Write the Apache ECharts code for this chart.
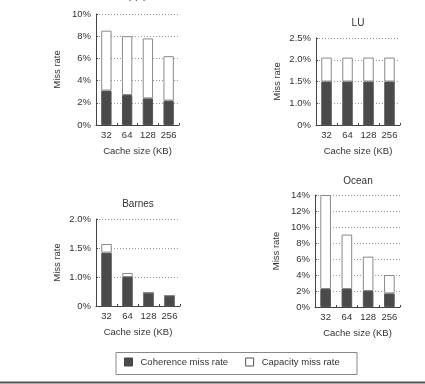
<!DOCTYPE html>
<html>
<head>
<meta charset="utf-8">
<script src="https://cdn.jsdelivr.net/npm/echarts@6/dist/echarts.min.js"></script>
<style>html,body{margin:0;padding:0;background:#fff}#c{width:425px;height:384px}</style>
</head>
<body>
<div id="c"></div>
<script>
const categories = ['32', '64', '128', '256'];
const seriesNames = ['Coherence miss rate', 'Capacity miss rate'];
const panelTitles = ['FFT', 'LU', 'Barnes', 'Ocean'];

const fftCoherence = [3.1, 2.7, 2.4, 2.2];
const fftCapacity = [5.4, 5.3, 5.4, 4.0];
const luCoherence = [1.5, 1.5, 1.5, 1.5];
const luCapacity = [0.55, 0.55, 0.55, 0.55];
const barnesCoherence = [1.42, 1.0, 0.73, 0.68];
const barnesCapacity = [0.15, 0.07, 0, 0];
const oceanCoherence = [2.25, 2.25, 2.0, 1.7];
const oceanCapacity = [11.75, 6.8, 4.3, 2.3];

const fftTickLabels = ['0%', '2%', '4%', '6%', '8%', '10%'];
const luTickLabels = ['0%', '1.0%', '1.5%', '2.0%', '2.5%'];
const barnesTickLabels = ['0%', '1.0%', '1.5%', '2.0%'];
const oceanTickLabels = ['0%', '2%', '4%', '6%', '8%', '10%', '12%', '14%'];

const FONT = 'Liberation Sans, Arial, sans-serif';
const TXT = '#333';

const panels = [
  { coh: fftCoherence, cap: fftCapacity, labels: fftTickLabels, min: 0, max: 10, interval: 2,
    grid: { left: 96, top: 14, width: 83, height: 111 }, title: [138, -2] },
  { coh: luCoherence, cap: luCapacity, labels: luTickLabels, min: 0.5, max: 2.5, interval: 0.5,
    grid: { left: 316, top: 38, width: 84, height: 87 }, title: [358, 23] },
  { coh: barnesCoherence, cap: barnesCapacity, labels: barnesTickLabels, min: 0.5, max: 2.0, interval: 0.5,
    grid: { left: 96, top: 219, width: 84, height: 87 }, title: [138, 204] },
  { coh: oceanCoherence, cap: oceanCapacity, labels: oceanTickLabels, min: 0, max: 14, interval: 2,
    grid: { left: 315, top: 195, width: 85, height: 112 }, title: [358, 181] }
];

const grids = [], xAxes = [], yAxes = [], series = [], graphics = [];
panels.forEach((p, i) => {
  grids.push(Object.assign({ containLabel: false }, p.grid));
  xAxes.push({
    type: 'category', gridIndex: i, data: categories,
    name: 'Cache size (KB)', nameLocation: 'middle', nameGap: 21,
    nameTextStyle: { fontFamily: FONT, fontSize: 9.5, color: TXT },
    axisLine: { show: true, lineStyle: { color: '#444', width: 1 } },
    axisTick: { show: true, inside: true, length: 2, lineStyle: { color: '#444' } },
    axisLabel: { fontFamily: FONT, fontSize: 9.5, color: TXT, margin: 5 },
    splitLine: { show: false }
  });
  yAxes.push({
    type: 'value', gridIndex: i, min: p.min, max: p.max, interval: p.interval,
    name: 'Miss rate', nameLocation: 'middle', nameGap: 34, nameRotate: 90,
    nameTextStyle: { fontFamily: FONT, fontSize: 9.5, color: TXT },
    axisLine: { show: true, lineStyle: { color: '#444', width: 1 } },
    axisTick: { show: true, inside: true, length: 2, lineStyle: { color: '#444' } },
    axisLabel: { fontFamily: FONT, fontSize: 9.5, color: TXT, margin: 5,
      formatter: (v, idx) => p.labels[idx] },
    splitLine: { show: true, lineStyle: { color: '#999', type: [1, 2], width: 1 } }
  });
  series.push({
    name: seriesNames[0], type: 'bar', xAxisIndex: i, yAxisIndex: i, stack: 's' + i,
    data: p.coh, barWidth: '50%', clip: true,
    itemStyle: { color: '#4a4a4a', borderColor: '#555', borderWidth: 1 }
  });
  series.push({
    name: seriesNames[1], type: 'bar', xAxisIndex: i, yAxisIndex: i, stack: 's' + i,
    data: p.cap, barWidth: '50%', clip: true,
    itemStyle: { color: '#ffffff', borderColor: '#888', borderWidth: 1 }
  });
  graphics.push({
    type: 'text', x: p.title[0], y: p.title[1],
    style: { text: panelTitles[i], textAlign: 'center', verticalAlign: 'middle',
      fontFamily: FONT, fontSize: 10, fill: TXT }
  });
});

graphics.push({
  type: 'rect', shape: { x: 116, y: 352.5, width: 241, height: 22 },
  style: { fill: 'none', stroke: '#888', lineWidth: 1 }, z: 1
});
graphics.push({
  type: 'line', shape: { x1: 0, y1: 382.5, x2: 425, y2: 382.5 },
  style: { stroke: '#555', lineWidth: 2 }
});

const chart = echarts.init(document.getElementById('c'), null, { renderer: 'canvas' });
chart.setOption({
  animation: false,
  backgroundColor: '#fff',
  grid: grids,
  xAxis: xAxes,
  yAxis: yAxes,
  series: series,
  legend: {
    left: 124, top: 357, itemWidth: 8, itemHeight: 8, itemGap: 17, padding: 0,
    icon: 'rect',
    textStyle: { fontFamily: FONT, fontSize: 9.5, color: TXT, padding: [0, 0, 0, 3] },
    data: [
      { name: seriesNames[0], itemStyle: { color: '#4a4a4a', borderColor: '#444', borderWidth: 1 } },
      { name: seriesNames[1], itemStyle: { color: '#fff', borderColor: '#555', borderWidth: 1 } }
    ]
  },
  graphic: graphics
});
</script>
</body>
</html>
